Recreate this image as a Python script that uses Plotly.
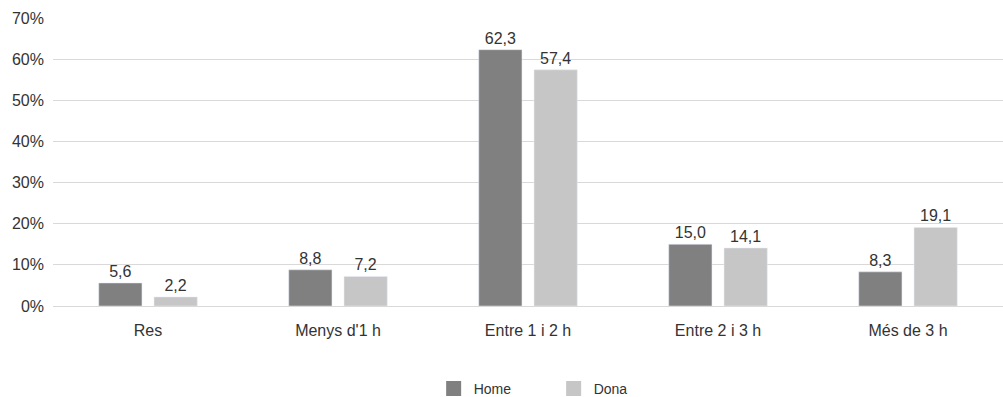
import plotly.graph_objects as go

categories = ["Res", "Menys d'1 h", "Entre 1 i 2 h", "Entre 2 i 3 h", "Més de 3 h"]
home = [5.6, 8.8, 62.3, 15.0, 8.3]
dona = [2.2, 7.2, 57.4, 14.1, 19.1]
tick_vals = [0, 10, 20, 30, 40, 50, 60, 70]
tick_text = ["0%", "10%", "20%", "30%", "40%", "50%", "60%", "70%"]

font_family = "Liberation Sans, Arial, sans-serif"
fig = go.Figure()
for name, vals, col in [("Home", home, "#808080"), ("Dona", dona, "#c6c6c6")]:
    fig.add_trace(go.Bar(x=categories, y=vals, name=name, marker_color=col,
                         texttemplate="%{y:.1f}", textposition="outside",
                         constraintext="none", showlegend=False,
                         textfont=dict(size=16, color="#333333"), cliponaxis=False))
for name, col in [("Home", "#808080"), ("Dona", "#c6c6c6")]:
    fig.add_trace(go.Scatter(x=[None], y=[None], mode="markers", name=name,
                             marker=dict(symbol="square", size=15, color=col)))

fig.update_layout(
    width=1003, height=397,
    separators=",.",
    barmode="group", bargap=0.418, bargroupgap=0.218,
    plot_bgcolor="white", paper_bgcolor="white",
    margin=dict(l=53, r=0, t=18, b=91, autoexpand=False),
    font=dict(family=font_family, size=16, color="#333333"),
    xaxis=dict(showgrid=False, showline=True, linecolor="#d9d9d9", linewidth=1,
               ticks="", ticklabelstandoff=10, tickfont=dict(size=16, color="#333333")),
    yaxis=dict(range=[0, 70], tickvals=tick_vals, ticktext=tick_text,
               showgrid=True, gridcolor="#d9d9d9", gridwidth=1, zeroline=False,
               ticks="", ticklabelstandoff=8, tickfont=dict(size=16, color="#333333")),
    legend=dict(orientation="h", x=0.527, xanchor="center", y=-0.288, yanchor="middle",
                font=dict(size=14, color="#333333"),
                entrywidth=75, entrywidthmode="pixels",
                traceorder="normal"),
)
fig.write_html("out.html", config={"displayModeBar": False},
               post_script="document.body.style.margin='0';document.body.style.overflow='hidden';")
